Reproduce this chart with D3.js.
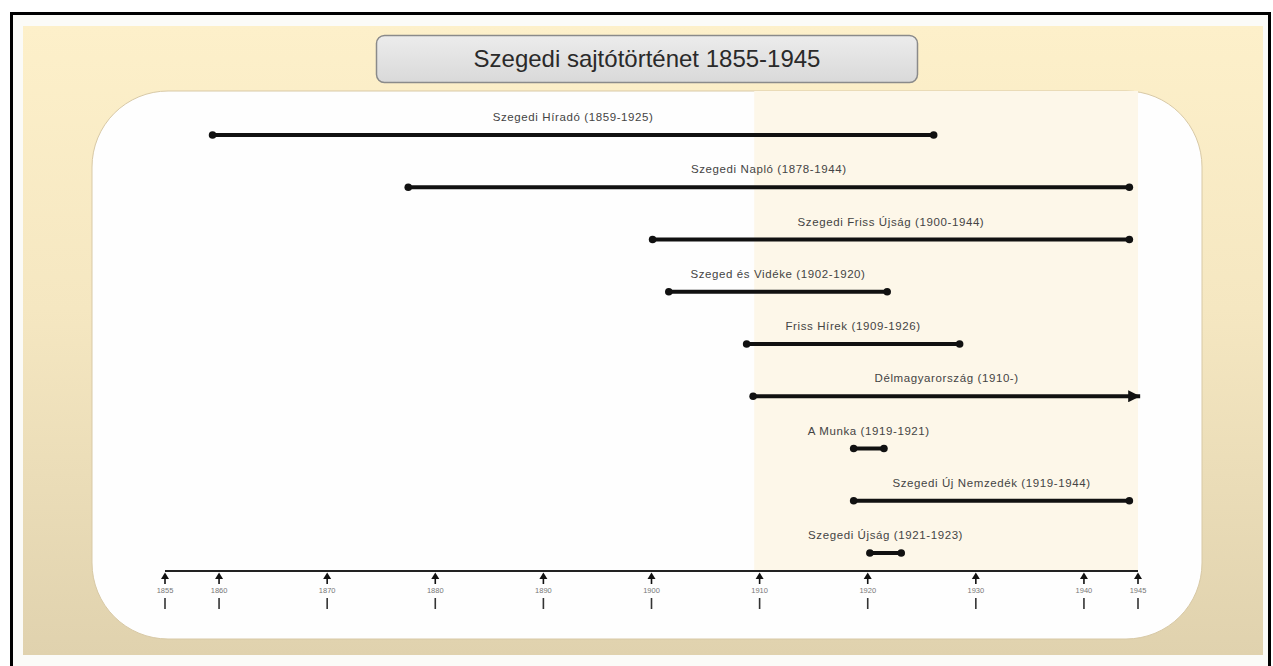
<!DOCTYPE html>
<html>
<head>
<meta charset="utf-8">
<script src="https://cdn.jsdelivr.net/npm/d3@7"></script>
<style>
  body { margin: 0; background: #ffffff; }
  svg { display: block; }
</style>
</head>
<body>
<div id="my_dataviz"></div>
<script>
// data
var titleText = "Szegedi sajtótörténet 1855-1945";
var labels = [
  "Szegedi Híradó (1859-1925)",
  "Szegedi Napló (1878-1944)",
  "Szegedi Friss Újság (1900-1944)",
  "Szeged és Vidéke (1902-1920)",
  "Friss Hírek (1909-1926)",
  "Délmagyarország (1910-)",
  "A Munka (1919-1921)",
  "Szegedi Új Nemzedék (1919-1944)",
  "Szegedi Újság (1921-1923)"
];
// where each bar is drawn on the year axis
var startYears = [1859.4, 1877.5, 1900.1, 1901.6, 1908.8, 1909.4, 1918.7, 1918.7, 1920.2];
var endYears   = [1926.1, 1944.2, 1944.2, 1921.8, 1928.5, 1945.2, 1921.5, 1944.2, 1923.1];
var ongoing    = [false, false, false, false, false, true, false, false, false];
var tickYears  = [1855, 1860, 1870, 1880, 1890, 1900, 1910, 1920, 1930, 1940, 1945];
var highlightYears = [1909.5, 1945];

var W = 1273, H = 666;

var svg = d3.select("#my_dataviz")
  .append("svg")
    .attr("width", W)
    .attr("height", H);

var defs = svg.append("defs");

var bgGrad = defs.append("linearGradient")
    .attr("id", "bgGrad")
    .attr("x1", 0).attr("y1", 0).attr("x2", 0).attr("y2", 1);
bgGrad.append("stop").attr("offset", "0%").attr("stop-color", "#fdf0ca");
bgGrad.append("stop").attr("offset", "45%").attr("stop-color", "#f5e7c1");
bgGrad.append("stop").attr("offset", "100%").attr("stop-color", "#e0d2ae");

var titleGrad = defs.append("linearGradient")
    .attr("id", "titleGrad")
    .attr("x1", 0).attr("y1", 0).attr("x2", 0).attr("y2", 1);
titleGrad.append("stop").attr("offset", "0%").attr("stop-color", "#ececec");
titleGrad.append("stop").attr("offset", "100%").attr("stop-color", "#d9d9d9");

defs.append("marker")
    .attr("id", "arrowHead")
    .attr("viewBox", "0 0 10 10")
    .attr("refX", 10)
    .attr("refY", 5)
    .attr("markerUnits", "userSpaceOnUse")
    .attr("markerWidth", 15)
    .attr("markerHeight", 12)
    .attr("orient", "auto")
  .append("path")
    .attr("d", "M0,0 L10,5 L0,10 Z")
    .attr("fill", "#111");

// outer frame
svg.append("rect")
    .attr("x", 11.5).attr("y", 13.5)
    .attr("width", 1258).attr("height", 700)
    .attr("fill", "#fbfbf8")
    .attr("stroke", "#000")
    .attr("stroke-width", 3);

// beige panel
svg.append("rect")
    .attr("x", 23).attr("y", 26)
    .attr("width", 1240).attr("height", 629)
    .attr("fill", "url(#bgGrad)");

// white rounded area
svg.append("rect")
    .attr("x", 92).attr("y", 91)
    .attr("width", 1110).attr("height", 548)
    .attr("rx", 76).attr("ry", 76)
    .attr("fill", "#fefefe")
    .attr("stroke", "#d8c9a6")
    .attr("stroke-width", 1);

// scales
var x = d3.scaleLinear()
    .domain([1855, 1945])
    .range([165, 1138]);

var y = d3.scalePoint()
    .domain(d3.range(labels.length))
    .range([135, 553]);

var axisY = 571;

// highlighted period
svg.append("rect")
    .attr("x", x(highlightYears[0]))
    .attr("y", 91)
    .attr("width", x(highlightYears[1]) - x(highlightYears[0]))
    .attr("height", axisY - 91)
    .attr("fill", "#fdf7e9");

// title box
svg.append("rect")
    .attr("x", 376.5).attr("y", 35.5)
    .attr("width", 541).attr("height", 47)
    .attr("rx", 8).attr("ry", 8)
    .attr("fill", "url(#titleGrad)")
    .attr("stroke", "#8a8a8a")
    .attr("stroke-width", 1.5);

svg.append("text")
    .attr("x", 647)
    .attr("y", 67)
    .attr("text-anchor", "middle")
    .style("font-family", "'Liberation Sans', Arial, sans-serif")
    .style("font-size", "24px")
    .style("fill", "#2a2a2a")
    .text(titleText);

var rows = labels.map(function(d, i) {
  return {label: d, start: startYears[i], end: endYears[i], open: ongoing[i], i: i};
});

// bars
svg.selectAll("line.bar")
  .data(rows)
  .enter()
  .append("line")
    .attr("class", "bar")
    .attr("x1", function(d) { return x(d.start); })
    .attr("x2", function(d) { return x(d.end); })
    .attr("y1", function(d) { return y(d.i); })
    .attr("y2", function(d) { return y(d.i); })
    .attr("stroke", "#111")
    .attr("stroke-width", 4)
    .attr("marker-end", function(d) { return d.open ? "url(#arrowHead)" : null; });

// end dots
svg.selectAll("circle.start")
  .data(rows)
  .enter()
  .append("circle")
    .attr("cx", function(d) { return x(d.start); })
    .attr("cy", function(d) { return y(d.i); })
    .attr("r", 3.8)
    .attr("fill", "#111");

svg.selectAll("circle.end")
  .data(rows.filter(function(d) { return !d.open; }))
  .enter()
  .append("circle")
    .attr("cx", function(d) { return x(d.end); })
    .attr("cy", function(d) { return y(d.i); })
    .attr("r", 3.8)
    .attr("fill", "#111");

// labels
svg.selectAll("text.lbl")
  .data(rows)
  .enter()
  .append("text")
    .attr("x", function(d) { return (x(d.start) + x(d.end)) / 2; })
    .attr("y", function(d) { return y(d.i) - 14; })
    .attr("text-anchor", "middle")
    .style("font-family", "'Liberation Sans', Arial, sans-serif")
    .style("font-size", "11.5px")
    .style("letter-spacing", "0.6px")
    .style("fill", "#444")
    .text(function(d) { return d.label; });

// time axis
svg.append("line")
    .attr("x1", x(1855))
    .attr("x2", x(1945))
    .attr("y1", axisY)
    .attr("y2", axisY)
    .attr("stroke", "#222")
    .attr("stroke-width", 2);

var ticks = svg.selectAll("g.tick")
  .data(tickYears)
  .enter()
  .append("g")
    .attr("transform", function(d) { return "translate(" + x(d) + "," + axisY + ")"; });

ticks.append("path")
    .attr("d", "M0,1.5 L-4,8 L4,8 Z")
    .attr("fill", "#111");

ticks.append("line")
    .attr("y1", 7).attr("y2", 13)
    .attr("stroke", "#111")
    .attr("stroke-width", 1.6);

ticks.append("text")
    .attr("y", 22)
    .attr("text-anchor", "middle")
    .style("font-family", "'Liberation Sans', Arial, sans-serif")
    .style("font-size", "7.5px")
    .style("fill", "#777")
    .text(function(d) { return d; });

ticks.append("line")
    .attr("y1", 27).attr("y2", 38)
    .attr("stroke", "#333")
    .attr("stroke-width", 1.6);
</script>
</body>
</html>
